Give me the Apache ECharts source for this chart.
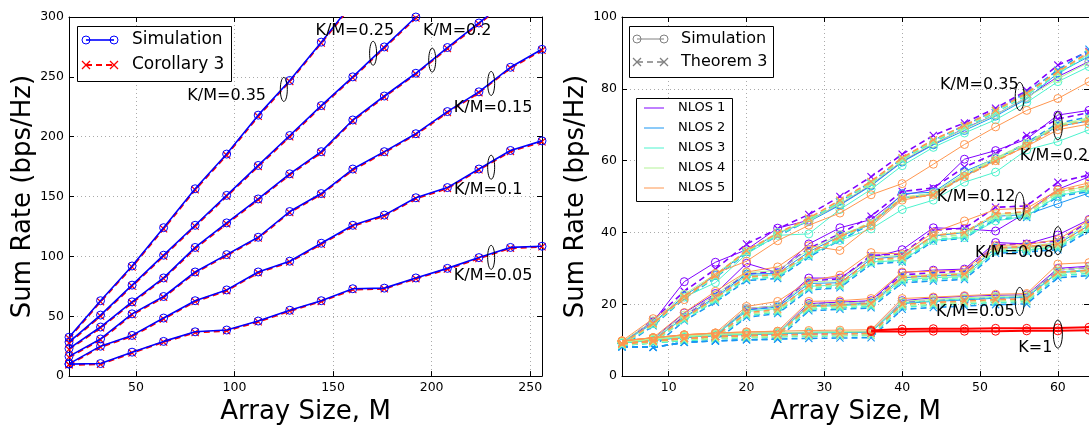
<!DOCTYPE html>
<html>
<head>
<meta charset="utf-8">
<script src="https://cdn.jsdelivr.net/npm/echarts@6/dist/echarts.min.js"></script>
<style>
  html, body { margin: 0; padding: 0; background: #fff; }
  #chart { width: 1089px; height: 430px; }
</style>
</head>
<body>
<div id="chart"></div>
<script>
// ---------- Left panel: sum rate vs array size (Simulation / Corollary 3) ----------
const leftArraySize = [16, 32, 48, 64, 80, 96, 112, 128, 144, 160, 176, 192, 208, 224, 240, 256];
const leftRatioLabels = ['K/M=0.35', 'K/M=0.25', 'K/M=0.2', 'K/M=0.15', 'K/M=0.1', 'K/M=0.05'];

const leftSim035 = [32.5, 63, 92, 124, 156.5, 185.5, 218, 247, 279, 312];
const leftSim025 = [28.4, 51, 76, 101, 126, 151, 176, 201, 226, 250, 275, 300, 324];
const leftSim020 = [23, 41, 62, 82, 107.5, 128, 148, 169, 187.5, 214, 234, 253, 274.5, 295, 316];
const leftSim015 = [16.5, 31, 52, 66.5, 87, 101.5, 116, 137.5, 152.5, 173, 187.5, 202.5, 221, 237.5, 258, 273];
const leftSim010 = [10.2, 25, 34, 48.5, 63, 72, 87, 96, 111, 126, 134.5, 149, 157.5, 173, 188.5, 196.5];
const leftSim005 = [10, 10.5, 20, 29, 37, 38.5, 46, 55, 63, 73, 73.5, 82, 90, 99, 107.5, 108.5];

const leftCor035 = [31.6, 62.2, 91.2, 123.0, 155.6, 184.6, 217.0, 246.2, 278.2, 311.0];
const leftCor025 = [27.6, 50.2, 75.2, 100.2, 125.2, 150.2, 175.2, 200.0, 225.2, 249.2, 274.2, 299.2, 323.4];
const leftCor020 = [22.3, 40.3, 61.2, 81.3, 106.6, 127.2, 147.3, 168.2, 186.7, 213.2, 233.2, 252.3, 273.6, 294.2, 315.2];
const leftCor015 = [15.8, 30.3, 51.2, 65.8, 86.3, 100.8, 115.3, 136.7, 151.8, 172.2, 186.8, 201.8, 220.2, 236.8, 257.3, 272.2];
const leftCor010 = [9.6, 24.3, 33.3, 47.8, 62.3, 71.4, 86.3, 95.3, 110.2, 125.3, 133.8, 148.3, 156.8, 172.3, 187.7, 195.8];
const leftCor005 = [9.4, 9.9, 19.4, 28.4, 36.4, 37.9, 45.4, 54.4, 62.4, 72.3, 72.9, 81.4, 89.4, 98.3, 106.9, 108.0];

const leftXTicks = [50, 100, 150, 200, 250];

// ---------- Right panel: NLOS 1..5 (Simulation / Theorem 3) ----------
const rightArraySize = [4, 8, 12, 16, 20, 24, 28, 32, 36, 40, 44, 48, 52, 56, 60, 64];
const nlosNames = ['NLOS 1', 'NLOS 2', 'NLOS 3', 'NLOS 4', 'NLOS 5'];
const rightRatioLabels = ['K/M=0.35', 'K/M=0.2', 'K/M=0.12', 'K/M=0.08', 'K/M=0.05', 'K=1'];

// each array: one row per NLOS case
const rightSim005 = [
  [9.4, 10.3, 11.0, 11.5, 11.8, 12.0, 12.2, 12.3, 12.4, 21.0, 21.8, 22.2, 22.5, 22.6, 30.0, 30.6],
  [9.2, 10.0, 10.8, 11.3, 11.6, 11.8, 12.0, 12.1, 12.2, 20.2, 20.8, 21.2, 21.7, 21.9, 28.8, 29.4],
  [9.3, 10.1, 10.9, 11.4, 11.7, 11.9, 12.1, 12.2, 12.3, 20.4, 21.0, 21.5, 21.9, 22.1, 29.0, 29.6],
  [9.5, 10.3, 11.1, 11.6, 11.9, 12.1, 12.3, 12.4, 12.5, 20.8, 21.4, 21.8, 22.2, 22.4, 29.6, 30.2],
  [9.8, 10.7, 11.5, 12.0, 12.3, 12.5, 12.7, 12.8, 12.9, 21.6, 22.0, 22.4, 22.8, 23.0, 31.2, 31.6]
];
const rightThm005 = [
  [9.0, 9.8, 10.5, 11.0, 11.3, 11.5, 11.7, 11.8, 11.9, 20.5, 21.0, 21.4, 21.8, 22.0, 29.6, 30.2],
  [8.2, 8.0, 9.4, 9.8, 10.1, 10.3, 10.5, 10.6, 10.7, 18.6, 19.1, 19.5, 19.9, 20.1, 27.4, 28.0],
  [8.6, 9.3, 9.9, 10.4, 10.7, 10.9, 11.1, 11.2, 11.3, 19.2, 19.7, 20.1, 20.5, 20.7, 28.0, 28.6],
  [8.8, 9.5, 10.2, 10.6, 10.9, 11.1, 11.3, 11.4, 11.5, 19.6, 20.1, 20.5, 20.9, 21.1, 28.5, 29.1],
  [9.0, 9.8, 10.5, 11.0, 11.3, 11.5, 11.7, 11.8, 11.9, 20.0, 20.5, 20.9, 21.3, 21.5, 28.9, 29.5]
];
const rightSim008 = [
  [9.4, 10.3, 11.0, 11.6, 11.9, 12.1, 20.2, 20.6, 21.0, 28.8, 29.5, 29.8, 37.2, 36.8, 39.3, 43.6],
  [9.2, 10.0, 10.8, 11.3, 11.6, 11.8, 19.6, 19.9, 20.3, 27.4, 27.9, 28.2, 35.6, 35.8, 36.8, 42.0],
  [9.3, 10.1, 10.9, 11.4, 11.7, 11.9, 19.3, 19.6, 20.0, 26.8, 27.4, 27.7, 34.8, 35.0, 36.2, 41.2],
  [9.5, 10.3, 11.1, 11.6, 11.9, 12.1, 19.9, 20.3, 20.7, 27.8, 28.3, 28.7, 35.9, 36.1, 37.2, 42.6],
  [9.8, 10.7, 11.5, 12.0, 12.3, 12.5, 20.8, 21.0, 21.6, 29.0, 29.2, 29.5, 36.4, 36.6, 38.0, 43.4]
];
const rightThm008 = [
  [9.0, 9.8, 10.5, 11.0, 11.3, 11.5, 20.0, 20.4, 20.8, 28.2, 28.8, 29.2, 36.5, 36.9, 37.6, 43.0],
  [8.2, 8.0, 9.4, 9.8, 10.1, 10.3, 18.2, 18.6, 19.0, 26.0, 26.5, 26.9, 34.2, 34.6, 35.2, 40.4],
  [8.6, 9.3, 9.9, 10.4, 10.7, 10.9, 18.6, 19.0, 19.4, 26.5, 27.0, 27.4, 34.7, 35.1, 35.7, 41.0],
  [8.8, 9.5, 10.2, 10.6, 10.9, 11.1, 19.0, 19.4, 19.8, 27.0, 27.5, 27.9, 35.2, 35.6, 36.2, 41.5],
  [9.0, 9.8, 10.5, 11.0, 11.3, 11.5, 19.4, 19.8, 20.2, 27.5, 28.0, 28.4, 35.7, 36.1, 36.7, 42.0]
];
const rightSim012 = [
  [9.4, 10.3, 11.2, 11.6, 18.8, 19.6, 27.3, 27.3, 33.0, 35.2, 41.3, 41.0, 40.4, 45.6, 52.0, 55.5],
  [9.2, 10.0, 10.8, 11.3, 18.4, 19.2, 25.8, 26.0, 32.6, 33.4, 39.0, 40.0, 44.5, 45.0, 48.0, 51.0],
  [9.3, 10.1, 10.9, 11.4, 18.0, 18.8, 25.0, 25.4, 31.8, 32.2, 37.8, 38.6, 43.2, 44.6, 50.2, 52.0],
  [9.5, 10.3, 11.1, 11.6, 18.8, 19.6, 26.2, 26.6, 33.2, 33.6, 39.2, 40.2, 45.0, 45.6, 51.2, 53.0],
  [9.8, 10.7, 11.5, 12.0, 19.4, 20.8, 26.5, 28.1, 34.4, 34.0, 40.0, 43.2, 46.4, 46.7, 51.8, 53.8]
];
const rightThm012 = [
  [9.0, 9.8, 10.5, 11.0, 18.6, 19.4, 26.6, 27.0, 33.6, 34.0, 40.6, 41.2, 47.0, 47.4, 54.0, 56.0],
  [8.2, 8.0, 9.4, 9.8, 16.4, 17.4, 24.0, 24.6, 31.2, 31.8, 37.6, 38.4, 43.6, 44.2, 50.0, 51.4],
  [8.6, 9.3, 9.9, 10.4, 16.8, 17.8, 24.4, 25.0, 31.6, 32.2, 38.0, 38.8, 44.0, 44.6, 50.4, 51.8],
  [8.8, 9.5, 10.2, 10.6, 17.2, 18.2, 24.8, 25.4, 32.0, 32.6, 38.6, 39.4, 44.6, 45.2, 51.0, 52.4],
  [9.0, 9.8, 10.5, 11.0, 17.6, 18.6, 25.2, 25.8, 32.4, 33.0, 39.2, 40.0, 45.2, 45.8, 51.6, 53.0]
];
const rightSim020 = [
  [9.4, 10.3, 17.6, 23.0, 31.4, 28.8, 36.8, 41.3, 43.6, 50.4, 52.0, 60.4, 62.8, 66.0, 72.7, 74.0],
  [9.2, 10.0, 16.4, 22.0, 28.4, 28.6, 34.6, 39.0, 42.2, 50.8, 51.2, 57.0, 60.6, 64.6, 69.6, 71.0],
  [9.3, 10.1, 16.2, 21.6, 28.0, 28.2, 33.6, 37.8, 41.0, 46.4, 49.0, 54.0, 56.8, 63.0, 65.3, 68.6],
  [9.5, 10.3, 17.0, 22.6, 28.8, 29.4, 35.2, 39.4, 42.4, 49.6, 51.0, 56.4, 60.8, 64.8, 70.0, 71.6],
  [9.8, 10.7, 17.7, 23.6, 29.0, 30.4, 36.3, 35.0, 41.8, 49.0, 50.6, 55.6, 60.0, 64.0, 68.6, 70.2]
];
const rightThm020 = [
  [9.0, 9.8, 16.8, 22.6, 28.4, 29.2, 35.6, 39.6, 44.5, 51.4, 52.4, 58.2, 62.0, 67.0, 71.6, 73.4],
  [8.2, 8.0, 15.4, 20.6, 26.6, 27.2, 33.2, 37.8, 42.4, 49.6, 50.6, 55.8, 60.4, 65.0, 70.4, 72.2],
  [8.6, 9.3, 15.6, 21.0, 27.0, 27.6, 33.6, 38.2, 42.6, 49.4, 50.4, 55.6, 60.0, 64.4, 69.6, 71.4],
  [8.8, 9.5, 15.9, 21.4, 27.4, 28.0, 34.0, 38.6, 43.0, 49.8, 50.8, 56.0, 60.4, 64.8, 70.0, 71.8],
  [9.0, 9.8, 16.2, 21.8, 27.6, 28.4, 34.2, 38.8, 42.6, 49.5, 50.4, 55.6, 59.8, 64.2, 69.4, 71.2]
];
const rightSim035 = [
  [9.4, 15.2, 26.3, 31.7, 35.2, 41.2, 43.4, 47.8, 53.2, 59.8, 64.6, 69.0, 72.8, 77.6, 83.4, 87.6],
  [9.2, 14.8, 22.4, 28.0, 34.6, 39.8, 43.0, 47.6, 53.0, 59.6, 64.4, 68.4, 72.4, 77.2, 84.4, 89.0],
  [9.3, 14.6, 22.0, 26.0, 34.0, 39.2, 39.6, 46.4, 52.0, 58.6, 63.7, 67.7, 71.4, 76.2, 82.0, 86.2],
  [9.5, 15.4, 22.8, 28.4, 34.8, 40.0, 43.2, 48.0, 53.4, 60.0, 64.8, 68.8, 72.8, 77.6, 82.8, 87.4],
  [9.8, 16.0, 21.3, 28.6, 32.0, 37.7, 42.0, 45.4, 50.5, 53.6, 59.0, 64.5, 69.4, 74.0, 77.3, 82.0]
];
const rightThm035 = [
  [9.0, 15.6, 23.6, 29.8, 36.8, 41.0, 45.0, 50.0, 55.5, 61.8, 67.0, 70.5, 74.6, 79.5, 86.6, 90.4],
  [8.2, 14.0, 21.6, 27.4, 34.4, 39.0, 43.4, 48.6, 54.0, 60.6, 65.6, 69.8, 74.0, 79.0, 85.2, 91.0],
  [8.6, 14.2, 21.8, 27.6, 34.6, 39.2, 43.4, 48.4, 53.6, 60.2, 65.2, 69.2, 73.4, 78.2, 84.2, 89.6],
  [8.8, 14.4, 22.0, 27.8, 34.8, 39.6, 43.8, 48.8, 54.0, 60.6, 65.6, 69.6, 73.8, 78.6, 84.6, 90.0],
  [9.0, 14.6, 22.2, 28.0, 35.0, 39.8, 44.0, 49.0, 54.2, 60.8, 65.8, 69.8, 74.0, 78.8, 84.8, 90.2]
];
// single-user curves, M = 36 .. 64
const rightArraySizeK1 = [36, 40, 44, 48, 52, 56, 60, 64];
const rightSimK1 = [
  [12.7, 13.1, 13.2, 13.2, 13.3, 13.3, 13.4, 13.6],
  [12.4, 12.4, 12.5, 12.5, 12.5, 12.6, 12.6, 12.8]
];

const rightXTicks = [10, 20, 30, 40, 50, 60];

// ---------- styling ----------
const FONT = '"DejaVu Sans", "Liberation Sans", sans-serif';
const nlosColors = ['#8000ff', '#1996f3', '#4df3ce', '#b3f396', '#ff964f'];
const k1Color = '#ff0000';
const crossPath = 'path://M0,1L1,0L5,4L9,0L10,1L6,5L10,9L9,10L5,6L1,10L0,9L4,5Z';

const pair = (xs, ys) => ys.map((v, i) => [xs[i], v]);

function axisX(grid, pos, min, max, ticks, withLabels) {
  return {
    type: 'value', gridIndex: grid, position: pos, min: min, max: max,
    axisLine: { show: true, onZero: false, lineStyle: { color: '#000', width: 1 } },
    axisTick: { show: true, inside: true, length: 5, customValues: ticks, lineStyle: { color: '#000' } },
    axisLabel: withLabels
      ? { show: true, customValues: ticks, color: '#000', fontSize: 12.5, fontFamily: FONT, margin: 5 }
      : { show: false },
    splitLine: withLabels
      ? { show: true, lineStyle: { color: '#aaa', type: [1, 3], width: 1 } }
      : { show: false },
    name: withLabels ? 'Array Size, M' : '',
    nameLocation: 'middle', nameGap: 17,
    nameTextStyle: { fontSize: 26, color: '#000', fontFamily: FONT }
  };
}
function axisY(grid, pos, max, interval, withLabels) {
  return {
    type: 'value', gridIndex: grid, position: pos, min: 0, max: max, interval: interval,
    axisLine: { show: true, onZero: false, lineStyle: { color: '#000', width: 1 } },
    axisTick: { show: true, inside: true, length: 5, lineStyle: { color: '#000' } },
    axisLabel: withLabels
      ? { show: true, color: '#000', fontSize: 12.5, fontFamily: FONT, margin: 5 }
      : { show: false },
    splitLine: withLabels
      ? { show: true, lineStyle: { color: '#aaa', type: [1, 3], width: 1 } }
      : { show: false },
    name: withLabels ? 'Sum Rate (bps/Hz)' : '',
    nameLocation: 'middle', nameGap: 33,
    nameTextStyle: { fontSize: 26, color: '#000', fontFamily: FONT }
  };
}

function circleSeries(xi, yi, data, color, width, z) {
  return {
    type: 'line', xAxisIndex: xi, yAxisIndex: yi, data: data, clip: true,
    symbol: 'circle', symbolSize: 8, showSymbol: true,
    itemStyle: { color: 'rgba(0,0,0,0)', borderColor: color, borderWidth: 1 },
    lineStyle: { color: color, width: width, type: 'solid' },
    z: z, silent: true, animation: false
  };
}
function crossSeries(xi, yi, data, color, width, z) {
  return {
    type: 'line', xAxisIndex: xi, yAxisIndex: yi, data: data, clip: true,
    symbol: crossPath, symbolSize: 8, showSymbol: true,
    itemStyle: { color: color, borderWidth: 0 },
    lineStyle: { color: color, width: width, type: [6, 4] },
    z: z, silent: true, animation: false
  };
}

const series = [];
// left panel: Corollary 3 under the simulated curves
const leftSim = [leftSim035, leftSim025, leftSim020, leftSim015, leftSim010, leftSim005];
const leftCor = [leftCor035, leftCor025, leftCor020, leftCor015, leftCor010, leftCor005];
leftCor.forEach(v => series.push(crossSeries(0, 0, pair(leftArraySize, v), '#ff0000', 2, 2)));
leftSim.forEach(v => series.push(circleSeries(0, 0, pair(leftArraySize, v), '#0000ff', 1.6, 3)));

// right panel
const rightSim = [rightSim035, rightSim020, rightSim012, rightSim008, rightSim005];
const rightThm = [rightThm035, rightThm020, rightThm012, rightThm008, rightThm005];
for (let n = 0; n < nlosNames.length; n++) {
  for (let g = 0; g < rightSim.length; g++) {
    series.push(circleSeries(2, 2, pair(rightArraySize, rightSim[g][n]), nlosColors[n], 1, 2 + n));
    series.push(crossSeries(2, 2, pair(rightArraySize, rightThm[g][n]), nlosColors[n], 1.6, 2 + n));
  }
}
rightSimK1.forEach(v => series.push(circleSeries(2, 2, pair(rightArraySizeK1, v), k1Color, 2, 8)));

const chart = echarts.init(document.getElementById('chart'), null, { renderer: 'canvas' });
chart.setOption({
  backgroundColor: '#fff',
  animation: false,
  grid: [
    { left: 69, top: 17, width: 473, height: 366 },
    { left: 622, top: 17, width: 472, height: 366 }
  ],
  xAxis: [
    axisX(0, 'bottom', 16, 256, leftXTicks, true),
    axisX(0, 'top', 16, 256, leftXTicks, false),
    axisX(1, 'bottom', 4, 64, rightXTicks, true),
    axisX(1, 'top', 4, 64, rightXTicks, false)
  ],
  yAxis: [
    axisY(0, 'left', 300, 50, true),
    axisY(0, 'right', 300, 50, false),
    axisY(1, 'left', 100, 20, true),
    axisY(1, 'right', 100, 20, false)
  ],
  series: series
});

// ---------- annotations and legends ----------
const toLeft = (m, v) => chart.convertToPixel({ xAxisIndex: 0, yAxisIndex: 0 }, [m, v]);
const toRight = (m, v) => chart.convertToPixel({ xAxisIndex: 2, yAxisIndex: 2 }, [m, v]);

const graphics = [];
function label(p, text, size, align) {
  graphics.push({
    type: 'text', x: p[0], y: p[1], z: 50, silent: true,
    style: { text: text, fill: '#000', font: size + 'px ' + FONT, align: align || 'center', verticalAlign: 'middle' }
  });
}
function ring(p, rx, ry) {
  graphics.push({
    type: 'ellipse', z: 50, silent: true,
    shape: { cx: p[0], cy: p[1], rx: rx, ry: ry },
    style: { fill: 'none', stroke: '#000', lineWidth: 1 }
  });
}

// left panel labels: [text position], [ring position]
const leftNotes = [
  [[96, 234], [125, 239.5]],
  [[161, 288.5], [170.3, 269.7]],
  [[213, 288.5], [200.3, 264]],
  [[231.2, 224], [230.2, 244.5]],
  [[228.7, 156], [230.2, 174.5]],
  [[231.2, 83.6], [230.2, 99.2]]
];
leftNotes.forEach((n, i) => {
  label(toLeft(n[0][0], n[0][1]), leftRatioLabels[i], 16);
  ring(toLeft(n[1][0], n[1][1]), 3.5, 12);
});

const rightNotes = [
  [[49.9, 81.2], [55.1, 77.9], 'center'],
  [[55.1, 61.2], [60.0, 69.7], 'left'],
  [[49.5, 50.0], [55.1, 47.3], 'center'],
  [[54.4, 34.2], [60.0, 37.7], 'center'],
  [[49.4, 18.0], [55.1, 20.8], 'center'],
  [[57.1, 7.9], [60.0, 11.7], 'center']
];
rightNotes.forEach((n, i) => {
  label(toRight(n[0][0], n[0][1]), rightRatioLabels[i], 16, n[2]);
  ring(toRight(n[1][0], n[1][1]), 4.5, 14);
});

// legend helpers
function box(x, y, w, h) {
  graphics.push({ type: 'rect', z: 60, silent: true, shape: { x: x, y: y, width: w, height: h },
    style: { fill: '#fff', stroke: '#000', lineWidth: 1 } });
}
function seg(x1, x2, y, color, width, dash) {
  graphics.push({ type: 'line', z: 61, silent: true, shape: { x1: x1, y1: y, x2: x2, y2: y },
    style: { stroke: color, lineWidth: width, lineDash: dash || null } });
}
function ringMark(x, y, color) {
  graphics.push({ type: 'circle', z: 62, silent: true, shape: { cx: x, cy: y, r: 4 },
    style: { fill: 'none', stroke: color, lineWidth: 1 } });
}
function crossMark(x, y, color) {
  graphics.push({ type: 'polyline', z: 62, silent: true, shape: { points: [[x - 4, y - 4], [x + 4, y + 4]] },
    style: { stroke: color, lineWidth: 1.2 } });
  graphics.push({ type: 'polyline', z: 62, silent: true, shape: { points: [[x - 4, y + 4], [x + 4, y - 4]] },
    style: { stroke: color, lineWidth: 1.2 } });
}
function legendText(x, y, text, size) {
  graphics.push({ type: 'text', z: 63, silent: true, x: x, y: y,
    style: { text: text, fill: '#000', font: size + 'px ' + FONT, align: 'left', verticalAlign: 'middle' } });
}

// left legend
box(77.5, 26.5, 154, 55);
seg(86, 114, 40, '#0000ff', 1.6); ringMark(86, 40, '#0000ff'); ringMark(114, 40, '#0000ff');
legendText(132, 40, 'Simulation', 17);
seg(86, 114, 65, '#ff0000', 2, [6, 4]); crossMark(86, 65, '#ff0000'); crossMark(114, 65, '#ff0000');
legendText(132, 65, 'Corollary 3', 17);

// right legend: curve types
box(629.5, 26.5, 144, 51);
seg(637, 664, 39, '#808080', 1); ringMark(637, 39, '#808080'); ringMark(664, 39, '#808080');
legendText(681, 39, 'Simulation', 16);
seg(637, 664, 62, '#808080', 1.6, [6, 4]); crossMark(637, 62, '#808080'); crossMark(664, 62, '#808080');
legendText(681, 62, 'Theorem 3', 16);

// right legend: NLOS cases
box(636.5, 98.5, 96, 103);
nlosNames.forEach((name, i) => {
  const y = 108 + i * 20;
  seg(644, 664, y, nlosColors[i], 1);
  legendText(678, y, name, 13);
});

chart.setOption({ graphic: graphics });
</script>
</body>
</html>
